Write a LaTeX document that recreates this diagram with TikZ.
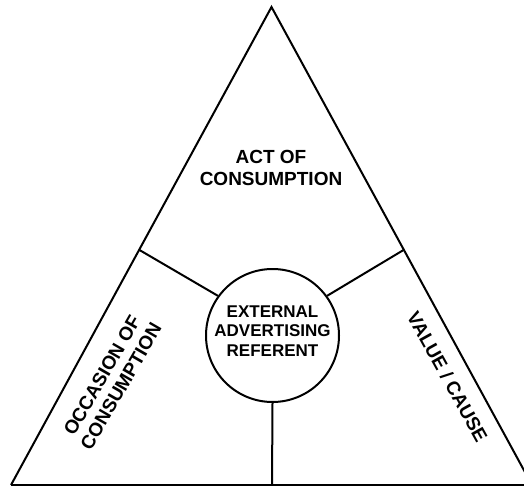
\documentclass[tikz,border=0pt]{standalone}
\usepackage{fontspec}
\setmainfont{Liberation Sans}
\usetikzlibrary{calc}
\begin{document}
\begin{tikzpicture}[x=1pt,y=-1pt,
  edge/.style={draw=black,line width=2pt,line join=miter},
  bigtext/.style={font=\bfseries\fontsize{19}{21.8}\selectfont,align=center,inner sep=0pt},
  circtext/.style={font=\bfseries\fontsize{17}{19.3}\selectfont,align=center,inner sep=0pt},
  hub/.style={circle,draw=black,line width=2pt,minimum size=133pt,inner sep=0pt}]
\useasboundingbox (0,0) rectangle (524,486);
\coordinate (apex) at (271.5,7);
\coordinate (bl) at (11,485);
\coordinate (br) at (532,485);
\coordinate (jl) at ($(apex)!0.508!(bl)$);
\coordinate (jr) at ($(apex)!0.508!(br)$);
\coordinate (bm) at (272,485);
\draw[edge] (bl) -- (apex) -- (br);
\draw[edge] (bl) -- (br);
\node[hub] (c) at (272.5,335.5) {};
\node[circtext] (ct) at (272.5,331) {EXTERNAL\\ADVERTISING\\REFERENT};
\draw[edge] (jl) -- (c.144);
\draw[edge] (jr) -- (c.36);
\draw[edge] (c.south) -- (bm);
\node[bigtext] (act) at (271,168) {ACT OF\\CONSUMPTION};
\node[bigtext,rotate=60] (occ) at (111.5,381) {OCCASION OF\\CONSUMPTION};
\node[bigtext,rotate=-61] (val) at (447.5,377) {VALUE / CAUSE};
\end{tikzpicture}
\end{document}
